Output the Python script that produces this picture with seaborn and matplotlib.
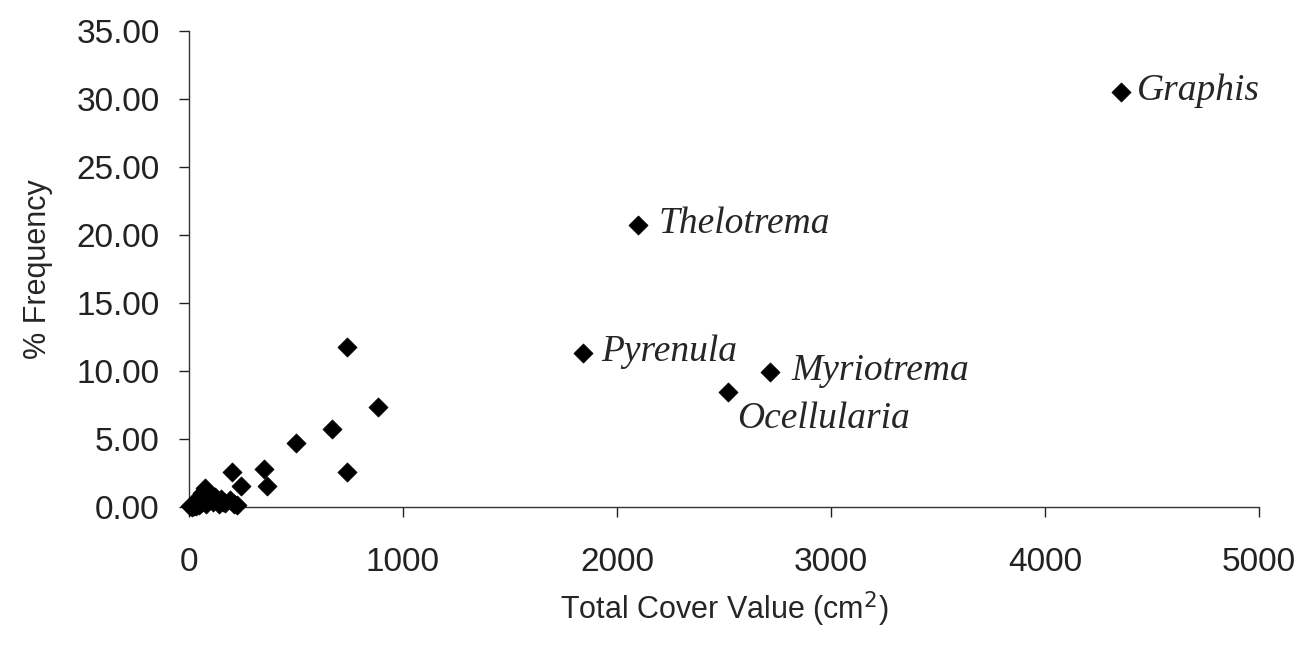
import matplotlib
matplotlib.use("Agg")
import matplotlib.pyplot as plt
import seaborn as sns
import pandas as pd

# genera with names shown on the chart
named_genus = ["Graphis", "Thelotrema", "Pyrenula", "Myriotrema", "Ocellularia"]
named_cover = [4356, 2096, 1840, 2717, 2521]
named_freq = [30.5, 20.7, 11.3, 9.9, 8.45]

# remaining genera (unlabelled)
other_cover = [737, 882, 668, 500, 737, 350, 364, 200, 243,
               5, 10, 15, 20, 25, 30, 35, 40, 45, 50, 55, 60, 75, 80,
               90, 100, 110, 120, 130, 140, 150, 160, 170, 190, 210, 224]
other_freq = [11.75, 7.35, 5.7, 4.7, 2.6, 2.8, 1.55, 2.57, 1.55,
              0.05, 0.1, 0.0, 0.2, 0.1, 0.3, 0.05, 0.5, 0.15, 0.8, 0.3, 1.0, 1.4, 0.2,
              1.0, 0.6, 0.4, 0.7, 0.5, 0.2, 0.6, 0.4, 0.3, 0.5, 0.2, 0.15]

# label offsets in points (dx, dy)
label_offsets = {
    "Graphis": (11, 1),
    "Thelotrema": (15, 1),
    "Pyrenula": (13, 1),
    "Myriotrema": (15, 1),
    "Ocellularia": (6, -19),
}

df = pd.DataFrame({
    "cover": named_cover + other_cover,
    "freq": named_freq + other_freq,
})

sns.set_style("ticks")
plt.rcParams["font.family"] = ["Liberation Sans", "DejaVu Sans"]

fig = plt.figure(figsize=(13.06, 6.46), dpi=100)
ax = fig.add_axes([0.1447, 0.2152, 0.8193, 0.7368])

sns.scatterplot(data=df, x="cover", y="freq", marker="D", s=95,
                color="black", edgecolor="black", linewidth=0.5, ax=ax,
                clip_on=False, zorder=3)

for name, cx, fy in zip(named_genus, named_cover, named_freq):
    dx, dy = label_offsets[name]
    ax.annotate(name, (cx, fy), xytext=(dx, dy), textcoords="offset points",
                ha="left", va="center", fontsize=27, style="italic",
                family="Liberation Serif")

ax.set_xlim(0, 5000)
ax.set_ylim(0, 35)
ax.set_xticks([0, 1000, 2000, 3000, 4000, 5000])
ax.set_yticks([0, 5, 10, 15, 20, 25, 30, 35])
ax.set_yticklabels([f"{v:.2f}" for v in ax.get_yticks()])

ax.tick_params(axis="both", labelsize=24, colors="#222222", length=7, width=1)
ax.tick_params(axis="y", pad=14)
ax.tick_params(axis="x", pad=22)

ax.set_xlabel("Total Cover Value (cm$^2$)", fontsize=22, labelpad=8)
ax.set_ylabel("% Frequency", fontsize=22, labelpad=17)

for side in ["top", "right"]:
    ax.spines[side].set_visible(False)
for side in ["left", "bottom"]:
    ax.spines[side].set_color("#333333")
    ax.spines[side].set_linewidth(1)

fig.savefig("out.png", dpi=100, facecolor="white")
